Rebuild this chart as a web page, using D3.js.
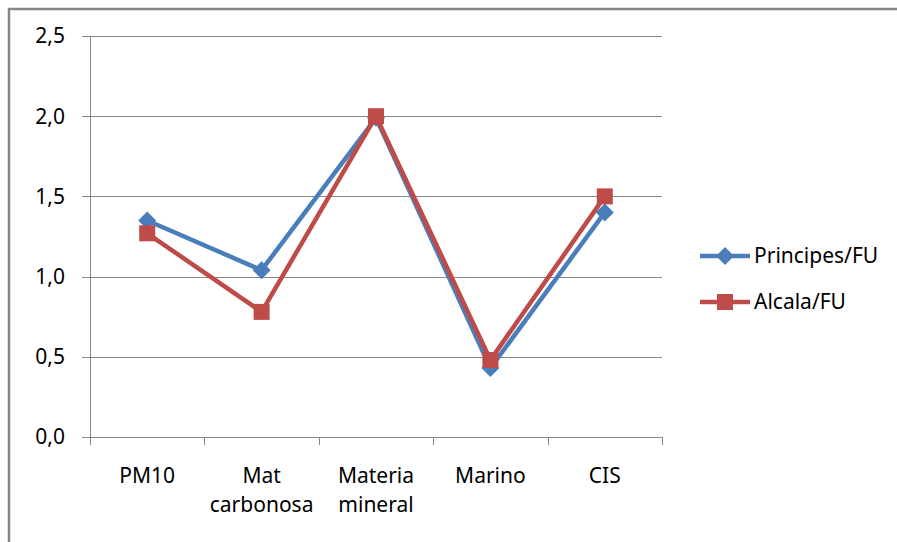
<!DOCTYPE html>
<html>
<head>
<meta charset="utf-8">
<script src="https://cdn.jsdelivr.net/npm/d3@7"></script>
<style>
  body { margin: 0; background: #fff; }
  svg { font-family: "Noto Sans", "Open Sans", sans-serif; }
</style>
</head>
<body>
<svg class="svg" width="897" height="542"></svg>
<script>
// chart data
var categories = [['PM10'], ['Mat', 'carbonosa'], ['Materia', 'mineral'], ['Marino'], ['CIS']];
var seriesNames = ['Principes/FU', 'Alcala/FU'];
var principes = [1.35, 1.04, 1.99, 0.43, 1.40];
var alcala = [1.27, 0.78, 2.00, 0.48, 1.50];
var yTicks = [0, 0.5, 1.0, 1.5, 2.0, 2.5];

var svg = d3.select('.svg');
var plotLeft = 90, plotRight = 662, plotTop = 36, plotBottom = 437;
var fontSize = 21;

// outer frame
svg.append('path')
  .attr('d', 'M9,542 V9 H897')
  .attr('fill', 'none')
  .attr('stroke', '#868686')
  .attr('stroke-width', 2.5);

var x = d3.scaleBand().domain(d3.range(categories.length)).range([plotLeft, plotRight]);
var y = d3.scaleLinear().domain([0, 2.5]).range([plotBottom, plotTop]);

// gridlines
svg.append('g').selectAll('line')
  .data(yTicks)
  .enter().append('line')
  .attr('x1', plotLeft - 8).attr('x2', plotRight)
  .attr('y1', d => Math.round(y(d)) + 0.5).attr('y2', d => Math.round(y(d)) + 0.5)
  .attr('stroke', '#888').attr('stroke-width', 1);

// y axis line
svg.append('line')
  .attr('x1', plotLeft + 0.5).attr('x2', plotLeft + 0.5)
  .attr('y1', plotTop).attr('y2', plotBottom)
  .attr('stroke', '#888');

// y tick labels
svg.append('g').selectAll('text')
  .data(yTicks)
  .enter().append('text')
  .attr('x', 65).attr('y', d => y(d))
  .attr('dy', '0.35em')
  .attr('text-anchor', 'end')
  .attr('font-size', fontSize)
  .attr('fill', '#000')
  .text(d => d3.format('.1f')(d).replace('.', ','));

// x ticks at category boundaries
var bounds = d3.range(categories.length + 1).map(i => i < categories.length ? x(i) : plotRight);
svg.append('g').selectAll('line')
  .data(bounds)
  .enter().append('line')
  .attr('x1', d => Math.round(d) + 0.5).attr('x2', d => Math.round(d) + 0.5)
  .attr('y1', plotBottom).attr('y2', plotBottom + 8)
  .attr('stroke', '#888');

// category labels
var labels = svg.append('g').selectAll('text')
  .data(categories)
  .enter().append('text')
  .attr('x', (d, i) => x(i) + x.bandwidth() / 2)
  .attr('y', 483)
  .attr('text-anchor', 'middle')
  .attr('font-size', fontSize)
  .attr('fill', '#000');
labels.selectAll('tspan')
  .data(d => d)
  .enter().append('tspan')
  .attr('x', function () { return d3.select(this.parentNode).attr('x'); })
  .attr('dy', (d, i) => i ? 29 : 0)
  .text(d => d);

var colors = ['#4a7ebb', '#be4b48'];
var line = d3.line()
  .x((d, i) => x(i) + x.bandwidth() / 2)
  .y(d => y(d));

var diamond = 'M0,-9L9,0L0,9L-9,0Z';
var square = 'M-8,-8H8V8H-8Z';

function drawSeries(values, k, shape) {
  svg.append('path')
    .datum(values)
    .attr('d', line)
    .attr('fill', 'none')
    .attr('stroke', colors[k])
    .attr('stroke-width', 4.5)
    .attr('stroke-linejoin', 'round');
  svg.append('g').selectAll('path')
    .data(values)
    .enter().append('path')
    .attr('d', shape)
    .attr('transform', (d, i) => 'translate(' + (x(i) + x.bandwidth() / 2) + ',' + y(d) + ')')
    .attr('fill', colors[k]);
}

drawSeries(principes, 0, diamond);
drawSeries(alcala, 1, square);

// legend
var legend = svg.append('g');
var legendY = [256, 302];
var shapes = [diamond, square];
seriesNames.forEach(function (name, k) {
  legend.append('line')
    .attr('x1', 700).attr('x2', 750)
    .attr('y1', legendY[k]).attr('y2', legendY[k])
    .attr('stroke', colors[k]).attr('stroke-width', 4.5);
  legend.append('path')
    .attr('d', shapes[k])
    .attr('transform', 'translate(725,' + legendY[k] + ')')
    .attr('fill', colors[k]);
  legend.append('text')
    .attr('x', 754).attr('y', legendY[k])
    .attr('dy', '0.35em')
    .attr('font-size', fontSize)
    .text(name);
});
</script>
</body>
</html>
